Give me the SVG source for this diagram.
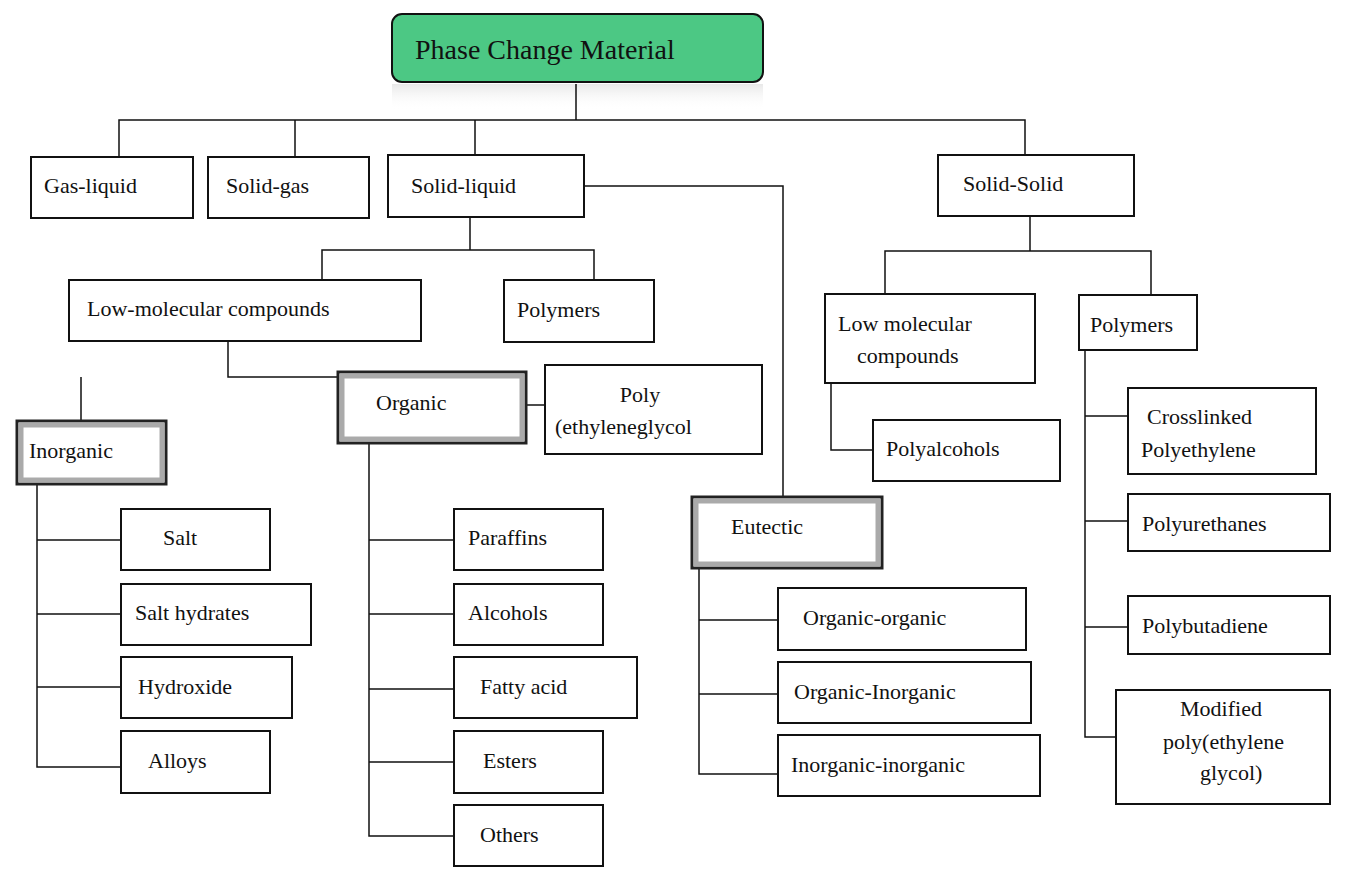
<svg xmlns="http://www.w3.org/2000/svg" width="1351" height="883" viewBox="0 0 1351 883">
<defs>
<linearGradient id="rg" x1="0" y1="0" x2="0" y2="1"><stop offset="0" stop-color="#e8e8e8"/><stop offset="1" stop-color="#fff" stop-opacity="0"/></linearGradient>
</defs>
<style>
text{font-family:"Liberation Serif","Times New Roman",serif;font-size:22px;fill:#111}
.b{fill:#fff;stroke:#111;stroke-width:2}
.bv{fill:#fff;stroke:#222;stroke-width:3}
.bvi{fill:none;stroke:#aaa;stroke-width:5}
#connectors path{fill:none;stroke:#111;stroke-width:1.5}
</style>
<rect x="392" y="84" width="371" height="26" fill="url(#rg)"/>
<g id="connectors">
<path d="M576,84V120M119,157V120H1025V157M295,120V157M475,120V157"/>
<path d="M584,186H783V497"/>
<path d="M470,217V250M322,280V250H594V280"/>
<path d="M228,341V377H338M81,377V421"/>
<path d="M526,405H545"/>
<path d="M37,484V767H121M37,540H121M37,614H121M37,687H121"/>
<path d="M369,443V836H454M369,540H454M369,614H454M369,689H454M369,762H454"/>
<path d="M699,568V774H778M699,620H778M699,694H778"/>
<path d="M1030,216V251M885,294V251H1151V294"/>
<path d="M831,383V450H873"/>
<path d="M1085,350V737H1116M1085,416H1128M1085,521H1128M1085,627H1128"/>
</g>
<g id="root"><rect x="392" y="14" width="371" height="68" rx="10" fill="#4cc884" stroke="#111" stroke-width="2"/><text x="415" y="59" style="font-size:28px">Phase Change Material</text></g>
<g id="gas-liquid"><rect class="b" x="31" y="157" width="162" height="61"/><text x="44" y="193">Gas-liquid</text></g>
<g id="solid-gas"><rect class="b" x="208" y="157" width="161" height="61"/><text x="226" y="193">Solid-gas</text></g>
<g id="solid-liquid"><rect class="b" x="388" y="155" width="196" height="62"/><text x="411" y="193">Solid-liquid</text></g>
<g id="solid-solid"><rect class="b" x="938" y="155" width="196" height="61"/><text x="963" y="191">Solid-Solid</text></g>
<g id="low-mol"><rect class="b" x="69" y="280" width="352" height="61"/><text x="87" y="316">Low-molecular compounds</text></g>
<g id="polymers-sl"><rect class="b" x="504" y="280" width="150" height="62"/><text x="517" y="317">Polymers</text></g>
<g id="organic"><rect class="bv" x="338" y="372" width="188" height="71"/><rect class="bvi" x="342" y="376" width="180" height="63"/><text x="376" y="410">Organic</text></g>
<g id="inorganic"><rect class="bv" x="17" y="421" width="149" height="63"/><rect class="bvi" x="21" y="425" width="141" height="55"/><text x="29" y="458">Inorganic</text></g>
<g id="peg"><rect class="b" x="545" y="365" width="217" height="89"/><text x="640" y="402" text-anchor="middle">Poly</text><text x="555" y="434">(ethyleneglycol</text></g>
<g id="salt"><rect class="b" x="121" y="509" width="149" height="61"/><text x="163" y="545">Salt</text></g>
<g id="salt-hydrates"><rect class="b" x="121" y="584" width="190" height="61"/><text x="135" y="620">Salt hydrates</text></g>
<g id="hydroxide"><rect class="b" x="121" y="657" width="171" height="61"/><text x="138" y="694">Hydroxide</text></g>
<g id="alloys"><rect class="b" x="121" y="731" width="149" height="62"/><text x="148" y="768">Alloys</text></g>
<g id="paraffins"><rect class="b" x="454" y="509" width="149" height="61"/><text x="468" y="545">Paraffins</text></g>
<g id="alcohols"><rect class="b" x="454" y="584" width="149" height="61"/><text x="468" y="620">Alcohols</text></g>
<g id="fatty-acid"><rect class="b" x="454" y="657" width="183" height="61"/><text x="480" y="694">Fatty acid</text></g>
<g id="esters"><rect class="b" x="454" y="731" width="149" height="62"/><text x="483" y="768">Esters</text></g>
<g id="others"><rect class="b" x="454" y="805" width="149" height="61"/><text x="480" y="842">Others</text></g>
<g id="eutectic"><rect class="bv" x="692" y="497" width="190" height="71"/><rect class="bvi" x="696" y="501" width="182" height="63"/><text x="731" y="534">Eutectic</text></g>
<g id="oo"><rect class="b" x="778" y="588" width="248" height="62"/><text x="803" y="625">Organic-organic</text></g>
<g id="oi"><rect class="b" x="778" y="662" width="253" height="61"/><text x="794" y="699">Organic-Inorganic</text></g>
<g id="ii"><rect class="b" x="778" y="735" width="262" height="61"/><text x="791" y="772">Inorganic-inorganic</text></g>
<g id="low-mol-ss"><rect class="b" x="825" y="294" width="210" height="89"/><text x="838" y="331">Low molecular</text><text x="857" y="363">compounds</text></g>
<g id="polymers-ss"><rect class="b" x="1079" y="295" width="118" height="55"/><text x="1090" y="332">Polymers</text></g>
<g id="polyalcohols"><rect class="b" x="873" y="420" width="187" height="61"/><text x="886" y="456">Polyalcohols</text></g>
<g id="crosslinked"><rect class="b" x="1128" y="388" width="188" height="86"/><text x="1147" y="424">Crosslinked</text><text x="1141" y="457">Polyethylene</text></g>
<g id="polyurethanes"><rect class="b" x="1128" y="494" width="202" height="57"/><text x="1142" y="531">Polyurethanes</text></g>
<g id="polybutadiene"><rect class="b" x="1128" y="596" width="202" height="58"/><text x="1142" y="633">Polybutadiene</text></g>
<g id="modified"><rect class="b" x="1116" y="690" width="214" height="114"/><text x="1221" y="716" text-anchor="middle">Modified</text><text x="1163" y="749">poly(ethylene</text><text x="1200" y="780">glycol)</text></g>
</svg>
